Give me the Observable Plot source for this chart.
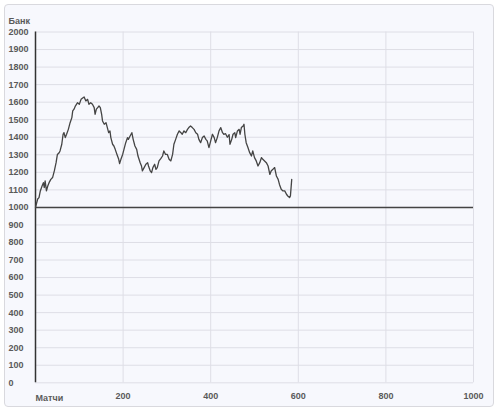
<!DOCTYPE html>
<html>
<head>
<meta charset="utf-8">
<script src="https://cdn.jsdelivr.net/npm/d3@7"></script>
<script src="https://cdn.jsdelivr.net/npm/@observablehq/plot@0.6"></script>
<style>
  html, body { margin: 0; padding: 0; background: #ffffff; }
  #box { position: absolute; left: 4px; top: 4px; width: 490px; height: 403px;
         border: 1px solid #d9d9de; border-radius: 4px; background: #f7f8fd; box-sizing: border-box; }
  #chart { position: absolute; left: 0; top: 0; }
</style>
</head>
<body>
<div id="box"></div>
<div id="chart"></div>
<script>
const matches = [0,5,8,11,15,18,20,22,25,28,31,35,39,43,47,50,54,56,60,63,65,68,71,75,79,83,85,88,91,96,100,104,107,111,115,119,122,126,130,134,136,139,142,145,148,151,153,157,161,164,167,170,172,176,179,182,186,190,192,195,199,202,206,210,212,216,220,223,227,231,234,239,242,244,248,252,256,258,262,265,268,272,275,278,282,286,290,293,297,301,305,309,313,316,320,324,328,332,335,339,343,347,350,354,358,362,366,370,373,377,381,385,389,392,396,400,404,408,411,415,419,423,427,430,434,438,442,444,448,451,455,457,461,465,467,470,474,476,478,481,485,489,493,496,500,504,508,512,516,519,523,527,531,535,538,542,546,550,554,557,561,565,569,573,576,580,582,585];
const bank = [1000,1048,1056,1094,1122,1141,1113,1151,1094,1122,1141,1160,1170,1208,1255,1302,1312,1322,1360,1417,1426,1398,1417,1445,1483,1512,1550,1560,1578,1597,1588,1616,1622,1630,1607,1616,1588,1597,1588,1569,1531,1560,1569,1578,1569,1531,1493,1474,1483,1455,1426,1436,1398,1360,1350,1331,1302,1274,1250,1274,1302,1331,1369,1398,1388,1407,1426,1388,1350,1331,1293,1255,1236,1208,1227,1246,1255,1236,1208,1198,1227,1246,1217,1227,1265,1278,1293,1322,1302,1302,1274,1265,1302,1360,1388,1417,1436,1426,1417,1436,1426,1445,1455,1464,1455,1445,1426,1417,1388,1369,1398,1407,1388,1379,1341,1379,1417,1398,1369,1398,1436,1455,1426,1417,1420,1400,1415,1360,1388,1417,1426,1398,1436,1445,1417,1455,1464,1474,1417,1369,1341,1312,1293,1322,1284,1265,1236,1255,1284,1274,1265,1255,1236,1188,1208,1217,1227,1179,1160,1131,1103,1094,1094,1075,1065,1056,1065,1160];
const yTicks = d3.range(0, 2001, 100);
const xTicks = [200, 400, 600, 800, 1000];
const startBank = 1000;
const yTitle = "Банк";
const xTitle = "Матчи";

const data = matches.map((m, i) => ({m, v: bank[i]}));

const chart = Plot.plot({
  width: 500,
  height: 411,
  marginLeft: 35,
  marginRight: 27,
  marginTop: 31.5,
  marginBottom: 28.7,
  style: {fontFamily: "'Liberation Sans', Arial, sans-serif", fontSize: "9px", fontWeight: "bold", color: "#5a5a5a", background: "transparent", overflow: "visible"},
  x: {domain: [0, 1000]},
  y: {domain: [0, 2000]},
  marks: [
    Plot.ruleY(yTicks, {stroke: "#dedee6", strokeWidth: 1}),
    Plot.ruleX(xTicks, {stroke: "#dedee6", strokeWidth: 1}),
    Plot.ruleX([0], {stroke: "#333", strokeWidth: 1.5}),
    Plot.ruleY([startBank], {stroke: "#444", strokeWidth: 1.5}),
    Plot.line(data, {x: "m", y: "v", stroke: "#444", strokeWidth: 1.3}),
    Plot.axisY({ticks: yTicks, tickSize: 0, tickPadding: 3, textAnchor: "start", dx: -24, label: null, tickFormat: d => String(d)}),
    Plot.axisX({ticks: xTicks, tickSize: 0, tickPadding: 10, label: null, tickFormat: d => String(d)}),
    Plot.text([xTitle], {x: 0, y: 0, textAnchor: "start", dy: 15, fill: "#5a5a5a"}),
    Plot.text([yTitle], {frameAnchor: "top-left", textAnchor: "start", dx: -27, dy: -14, fill: "#5a5a5a"})
  ]
});
document.getElementById("chart").appendChild(chart);
</script>
</body>
</html>
